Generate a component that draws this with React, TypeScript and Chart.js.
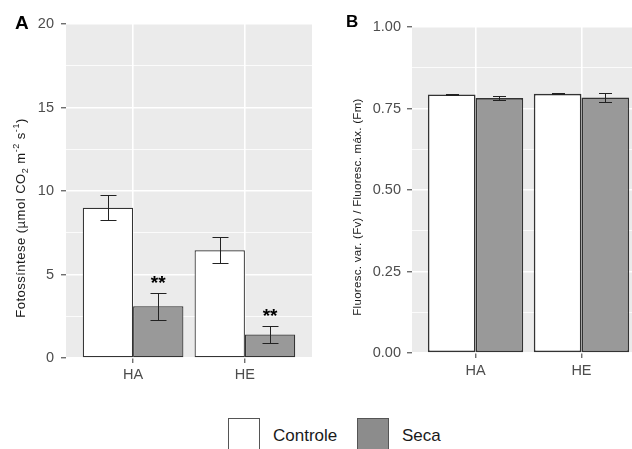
import React, { useEffect, useRef } from 'react';
import { Chart, registerables } from 'chart.js';

Chart.register(...registerables);

const FONT = '"Liberation Sans", Arial, Helvetica, sans-serif';

// ---- data ----
const categories = ['HA', 'HE'];
const seriesNames = ['Controle', 'Seca'];

const photoControle = [9.0, 6.45];
const photoSeca = [3.1, 1.4];
const photoControleErr = [0.75, 0.78];
const photoSecaErr = [0.82, 0.52];
const photoControleStars = ['', ''];
const photoSecaStars = ['**', '**'];
const photoTicks = [0, 5, 10, 15, 20];
const photoTitle = [
  { t: 'Fotossíntese (µmol CO' },
  { t: '2', sub: true },
  { t: ' m' },
  { t: '-2', sup: true },
  { t: ' s' },
  { t: '-1', sup: true },
  { t: ')' },
];

const fluorControle = [0.793, 0.795];
const fluorSeca = [0.782, 0.784];
const fluorControleErr = [0.002, 0.002];
const fluorSecaErr = [0.005, 0.015];
const fluorControleStars = ['', ''];
const fluorSecaStars = ['', ''];
const fluorTicks = [0, 0.25, 0.5, 0.75, 1.0];
const fluorTitle = [{ t: 'Fluoresc. var. (Fv) / Fluoresc. máx. (Fm)' }];

const seriesColors = ['#FFFFFF', '#999999'];

function drawRich(ctx: any, segs: any[], cx: number, cy: number, size: number, spacing: number, color: string) {
  ctx.save();
  ctx.translate(cx, cy);
  ctx.rotate(-Math.PI / 2);
  ctx.letterSpacing = `${spacing}px`;
  let total = 0;
  const items = segs.map((s) => {
    const fs = s.sub || s.sup ? size * 0.7 : size;
    ctx.font = `${fs}px ${FONT}`;
    const w = ctx.measureText(s.t).width;
    total += w;
    return { ...s, fs, w };
  });
  let x = -total / 2;
  ctx.fillStyle = color;
  ctx.textBaseline = 'alphabetic';
  ctx.textAlign = 'left';
  for (const it of items) {
    ctx.font = `${it.fs}px ${FONT}`;
    const dy = it.sub ? size * 0.25 : it.sup ? -size * 0.4 : 0;
    ctx.fillText(it.t, x, size * 0.36 + dy);
    x += it.w;
  }
  ctx.restore();
}

function buildConfig(p: any) {
  const ticks: number[] = p.ticks;
  const yMin = ticks[0];
  const yMax = ticks[ticks.length - 1];
  const allTicks: any[] = [];
  for (let i = 0; i < ticks.length; i++) {
    allTicks.push({ value: ticks[i], isMinor: false });
    if (i < ticks.length - 1) allTicks.push({ value: (ticks[i] + ticks[i + 1]) / 2, isMinor: true });
  }
  const series = [p.controle, p.seca];
  const errs = [p.cErr, p.sErr];
  const stars = [p.cStars, p.sStars];

  const panelPlugin = {
    id: 'panel',
    beforeDraw(chart: any) {
      const { ctx, chartArea } = chart;
      ctx.save();
      ctx.fillStyle = '#EBEBEB';
      ctx.fillRect(chartArea.left, chartArea.top, chartArea.right - chartArea.left, chartArea.bottom - chartArea.top);
      ctx.restore();
    },
    afterDatasetsDraw(chart: any) {
      const { ctx } = chart;
      const yScale = chart.scales.y;
      ctx.save();
      ctx.strokeStyle = '#222222';
      ctx.lineWidth = 1;
      series.forEach((vals: number[], d: number) => {
        const meta = chart.getDatasetMeta(d);
        vals.forEach((v: number, i: number) => {
          const el = meta.data[i];
          if (!el) return;
          const x = Math.round(el.x) + 0.5;
          const yTop = Math.round(yScale.getPixelForValue(v + errs[d][i])) + 0.5;
          const yBot = Math.round(yScale.getPixelForValue(v - errs[d][i])) + 0.5;
          ctx.beginPath();
          ctx.moveTo(x, yTop);
          ctx.lineTo(x, yBot);
          ctx.moveTo(x - p.capHalf, yTop);
          ctx.lineTo(x + p.capHalf, yTop);
          ctx.moveTo(x - p.capHalf, yBot);
          ctx.lineTo(x + p.capHalf, yBot);
          ctx.stroke();
          const s = stars[d][i];
          if (s) {
            ctx.fillStyle = '#000000';
            ctx.font = `bold 19px ${FONT}`;
            ctx.textAlign = 'center';
            ctx.textBaseline = 'alphabetic';
            ctx.fillText(s, el.x, yTop - 5);
          }
        });
      });
      ctx.restore();
    },
    afterDraw(chart: any) {
      const { ctx } = chart;
      ctx.save();
      ctx.fillStyle = '#000000';
      ctx.font = `bold ${p.letterSize}px ${FONT}`;
      ctx.textAlign = 'left';
      ctx.textBaseline = 'alphabetic';
      ctx.fillText(p.letter, p.letterX, p.letterY);
      ctx.restore();
      drawRich(ctx, p.title, p.titleX, p.titleY, p.titleSize, p.titleSpacing, '#1A1A1A');
    },
  };

  return {
    type: 'bar',
    data: {
      datasets: series.map((vals: number[], d: number) => ({
        label: seriesNames[d],
        data: vals.map((y: number, i: number) => ({ x: i + 1, y })),
        backgroundColor: seriesColors[d],
        borderColor: '#333333',
        borderWidth: p.borderW,
        borderSkipped: false,
        categoryPercentage: 0.9,
        barPercentage: 1.0,
      })),
    },
    options: {
      animation: false,
      responsive: false,
      maintainAspectRatio: false,
      events: [],
      layout: { padding: p.pad },
      plugins: { legend: { display: false }, tooltip: { enabled: false } },
      scales: {
        x: {
          type: 'linear',
          min: 0.4,
          max: 2.6,
          offset: false,
          afterBuildTicks: (s: any) => {
            s.ticks = categories.map((_, i) => ({ value: i + 1 }));
          },
          afterFit: (s: any) => {
            s.height = p.xHeight;
          },
          ticks: {
            autoSkip: false,
            maxRotation: 0,
            padding: p.xPad,
            color: '#4D4D4D',
            font: { family: FONT, size: p.fontSize },
            callback: (v: any) => categories[Math.round(v) - 1] ?? '',
          },
          grid: {
            offset: false,
            color: '#FFFFFF',
            lineWidth: 1.6,
            tickLength: 5,
            tickColor: '#333333',
            tickWidth: 1,
          },
          border: { display: false },
        },
        y: {
          type: 'linear',
          min: yMin,
          max: yMax,
          afterBuildTicks: (s: any) => {
            s.ticks = allTicks.map((t) => ({ ...t }));
          },
          afterFit: (s: any) => {
            s.width = p.yWidth;
          },
          ticks: {
            autoSkip: false,
            padding: p.yPad,
            color: '#4D4D4D',
            font: { family: FONT, size: p.fontSize },
            callback: (v: any, i: number) => (allTicks[i] && !allTicks[i].isMinor ? p.fmt(v) : ''),
          },
          grid: {
            color: '#FFFFFF',
            lineWidth: (c: any) => (c.tick && c.tick.isMinor ? 0.8 : 1.6),
            tickLength: 5,
            tickColor: (c: any) => (c.tick && c.tick.isMinor ? 'rgba(0,0,0,0)' : '#333333'),
            tickWidth: 1,
          },
          border: { display: false },
        },
      },
    },
    plugins: [panelPlugin],
  };
}

function Panel(props: { cfg: any; style: React.CSSProperties; w: number; h: number }) {
  const ref = useRef<HTMLCanvasElement | null>(null);
  useEffect(() => {
    if (!ref.current) return;
    const chart = new Chart(ref.current, buildConfig(props.cfg) as any);
    return () => chart.destroy();
  }, []);
  return (
    <div style={{ position: 'absolute', width: props.w, height: props.h, ...props.style }}>
      <canvas ref={ref} width={props.w} height={props.h} style={{ width: props.w, height: props.h, display: 'block' }} />
    </div>
  );
}

const panelA = {
  controle: photoControle,
  seca: photoSeca,
  cErr: photoControleErr,
  sErr: photoSecaErr,
  cStars: photoControleStars,
  sStars: photoSecaStars,
  ticks: photoTicks,
  fmt: (v: number) => String(Math.round(v)),
  title: photoTitle,
  titleX: 20,
  titleY: 218,
  titleSize: 13,
  titleSpacing: 0.5,
  letter: 'A',
  letterX: 15,
  letterY: 29,
  letterSize: 19,
  yWidth: 66,
  xHeight: 42,
  pad: { left: 0, top: 24, right: 8, bottom: 0 },
  fontSize: 14.5,
  xPad: 3,
  yPad: 7,
  capHalf: 8,
  borderW: 1.2,
};

const panelB = {
  controle: fluorControle,
  seca: fluorSeca,
  cErr: fluorControleErr,
  sErr: fluorSecaErr,
  cStars: fluorControleStars,
  sStars: fluorSecaStars,
  ticks: fluorTicks,
  fmt: (v: number) => v.toFixed(2),
  title: fluorTitle,
  titleX: 37,
  titleY: 207,
  titleSize: 11.5,
  titleSpacing: 0.3,
  letter: 'B',
  letterX: 26,
  letterY: 27,
  letterSize: 17,
  yWidth: 92,
  xHeight: 47,
  pad: { left: 0, top: 27, right: 5, bottom: 0 },
  fontSize: 14.5,
  xPad: 4,
  yPad: 6,
  capHalf: 6.5,
  borderW: 1.6,
};

export default function App() {
  return (
    <div style={{ position: 'fixed', left: 0, top: 0, width: 632, height: 449, overflow: 'hidden', background: '#FFFFFF', fontFamily: FONT }}>
      <Panel cfg={panelA} w={320} h={400} style={{ left: 0, top: 0 }} />
      <Panel cfg={panelB} w={330} h={400} style={{ left: 320, top: 0 }} />
      <div style={{ position: 'absolute', left: 228, top: 418, width: 32, height: 32, background: seriesColors[0], border: '1px solid #555555', boxSizing: 'border-box' }} />
      <div style={{ position: 'absolute', left: 273, top: 426, fontSize: 17, lineHeight: '20px', color: '#1A1A1A', whiteSpace: 'nowrap' }}>{seriesNames[0]}</div>
      <div style={{ position: 'absolute', left: 357, top: 418, width: 32, height: 32, background: '#8C8C8C', border: '1px solid #555555', boxSizing: 'border-box' }} />
      <div style={{ position: 'absolute', left: 402, top: 426, fontSize: 17, lineHeight: '20px', color: '#1A1A1A', whiteSpace: 'nowrap' }}>{seriesNames[1]}</div>
    </div>
  );
}
